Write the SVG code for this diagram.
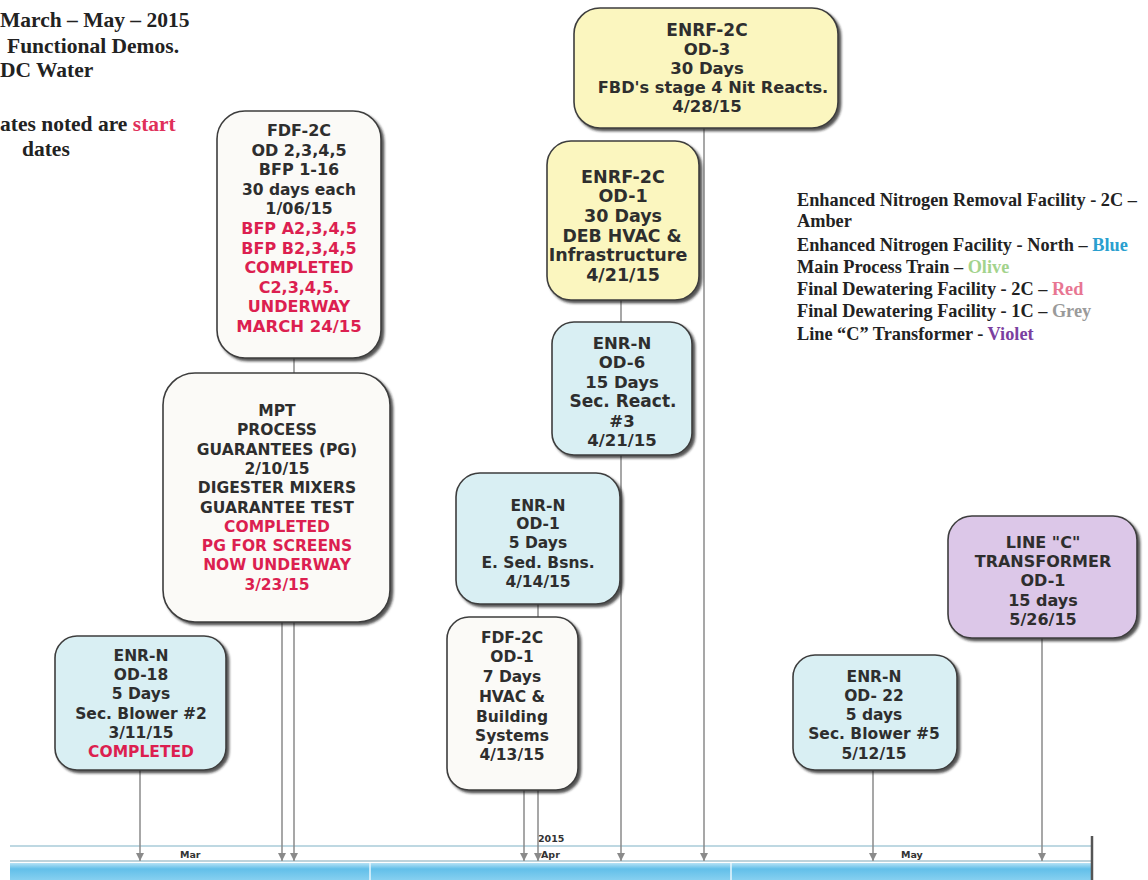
<svg xmlns="http://www.w3.org/2000/svg" width="1148" height="880" viewBox="0 0 1148 880">
<style>
.t{font-family:"DejaVu Sans",sans-serif;font-weight:bold;font-size:15.5px;fill:#2e2e2e;text-anchor:middle}
.r{fill:#dc1f50}
.box{stroke:#3e3e3e;stroke-width:1.6;filter:url(#sh)}
.w{fill:#fbfaf7}.b{fill:#d9eff3}.y{fill:#fbf6bf}.v{fill:#dcc7e8}
.con{stroke:#8a8a8a;stroke-width:1.5;fill:none;marker-end:url(#ah)}
.hd{font-family:"Liberation Serif",serif;font-weight:bold;font-size:21.5px;fill:#222}
.lg{font-family:"Liberation Serif",serif;font-weight:bold;font-size:18.3px;fill:#222}
.tl{font-family:"DejaVu Sans",sans-serif;font-weight:bold;font-size:9.5px;fill:#333}
</style>
<defs>
<filter id="sh" x="-10%" y="-10%" width="125%" height="125%">
<feDropShadow dx="2.5" dy="2.5" stdDeviation="1.2" flood-color="#1a1a1a" flood-opacity="0.75"/>
</filter>
<marker id="ah" viewBox="0 0 10 10" refX="10" refY="5" markerWidth="8" markerHeight="8" markerUnits="userSpaceOnUse" orient="auto">
<path d="M0,0 L10,5 L0,10 z" fill="#8a8a8a"/>
</marker>
<linearGradient id="band" x1="0" y1="0" x2="0" y2="1">
<stop offset="0" stop-color="#b6e2f5"/>
<stop offset="0.35" stop-color="#62bfe9"/>
<stop offset="1" stop-color="#86d0f0"/>
</linearGradient>
</defs>
<rect width="1148" height="880" fill="#ffffff"/>

<g id="title">
<text class="hd" x="0" y="27">March – May – 2015</text>
<text class="hd" x="7" y="53">Functional Demos.</text>
<text class="hd" x="0" y="77" font-size="20.5px">DC Water</text>
<text class="hd" x="0" y="131" font-size="21px">ates noted are <tspan fill="#e0305a">start</tspan></text>
<text class="hd" x="22" y="156" font-size="21px">dates</text>
</g>

<g id="legend">
<text class="lg" x="797" y="206">Enhanced Nitrogen Removal Facility - 2C –</text>
<text class="lg" x="797" y="227" fill="#f0b488">Amber</text>
<text class="lg" x="797" y="251">Enhanced Nitrogen Facility - North – <tspan fill="#2a9fcf">Blue</tspan></text>
<text class="lg" x="797" y="273">Main Process Train – <tspan fill="#a3d38c">Olive</tspan></text>
<text class="lg" x="797" y="295">Final Dewatering Facility - 2C – <tspan fill="#e87692">Red</tspan></text>
<text class="lg" x="797" y="317">Final Dewatering Facility - 1C – <tspan fill="#9a9a9a">Grey</tspan></text>
<text class="lg" x="797" y="340">Line “C” Transformer - <tspan fill="#7b3fa0">Violet</tspan></text>
</g>

<g id="timeline">
<line x1="10" y1="846" x2="1092" y2="846" stroke="#a9cbd9" stroke-width="1.5"/>
<line x1="10" y1="861" x2="1092" y2="861" stroke="#a9c4cf" stroke-width="1.5"/>
<rect x="10" y="863" width="1082" height="17" fill="url(#band)"/>
<line x1="370" y1="863" x2="370" y2="880" stroke="#e8f6fc" stroke-width="1.5"/>
<line x1="731" y1="863" x2="731" y2="880" stroke="#e8f6fc" stroke-width="1.5"/>
<line x1="1092" y1="836" x2="1092" y2="880" stroke="#555" stroke-width="2.5"/>
<text class="tl" x="538" y="842" font-size="13px">2015</text>
<text class="tl" x="180" y="858">Mar</text>
<text class="tl" x="541" y="858">Apr</text>
<text class="tl" x="901" y="858">May</text>
</g>

<g id="connectors">
<line class="con" x1="140" y1="770" x2="140" y2="861"/>
<line class="con" x1="294" y1="358" x2="294" y2="861"/>
<line class="con" x1="282" y1="622" x2="282" y2="861"/>
<line class="con" x1="538" y1="604" x2="538" y2="861"/>
<line class="con" x1="524" y1="790" x2="524" y2="861"/>
<line class="con" x1="621" y1="300" x2="621" y2="861"/>
<line class="con" x1="704" y1="128" x2="704" y2="861"/>
<line class="con" x1="873" y1="770" x2="873" y2="861"/>
<line class="con" x1="1042" y1="638" x2="1042" y2="861"/>
</g>

<g id="fdf2c-od2345">
<rect class="box w" x="217" y="111" width="164" height="247" rx="28"/>
<text class="t" x="299" y="136" style="font-size:16px">FDF-2C</text>
<text class="t" x="299" y="155.6" style="font-size:16px">OD 2,3,4,5</text>
<text class="t" x="299" y="175.2" style="font-size:16px">BFP 1-16</text>
<text class="t" x="299" y="194.8" style="font-size:15.5px">30 days each</text>
<text class="t" x="299" y="214.4" style="font-size:16px">1/06/15</text>
<text class="t r" x="299" y="234" style="font-size:16px">BFP A2,3,4,5</text>
<text class="t r" x="299" y="253.6" style="font-size:16px">BFP B2,3,4,5</text>
<text class="t r" x="299" y="273.2" style="font-size:16px">COMPLETED</text>
<text class="t r" x="299" y="292.8" style="font-size:16px">C2,3,4,5.</text>
<text class="t r" x="299" y="312.4" style="font-size:16px">UNDERWAY</text>
<text class="t r" x="299" y="332" style="font-size:16.5px">MARCH 24/15</text>
</g>

<g id="mpt-pg">
<rect class="box w" x="163" y="373" width="227" height="249" rx="32"/>
<text class="t" x="277" y="416">MPT</text>
<text class="t" x="277" y="435.3">PROCESS</text>
<text class="t" x="277" y="454.6">GUARANTEES (PG)</text>
<text class="t" x="277" y="473.9">2/10/15</text>
<text class="t" x="277" y="493.2">DIGESTER MIXERS</text>
<text class="t" x="277" y="512.5">GUARANTEE TEST</text>
<text class="t r" x="277" y="531.8">COMPLETED</text>
<text class="t r" x="277" y="551.1">PG FOR SCREENS</text>
<text class="t r" x="277" y="570.4">NOW UNDERWAY</text>
<text class="t r" x="277" y="589.7">3/23/15</text>
</g>

<g id="enrn-od18">
<rect class="box b" x="55" y="636" width="171" height="134" rx="22"/>
<text class="t" x="141" y="661">ENR-N</text>
<text class="t" x="141" y="680">OD-18</text>
<text class="t" x="141" y="699">5 Days</text>
<text class="t" x="141" y="719">Sec. Blower #2</text>
<text class="t" x="141" y="738">3/11/15</text>
<text class="t r" x="141" y="757">COMPLETED</text>
</g>

<g id="enrf2c-od3">
<rect class="box y" x="574" y="8" width="264" height="120" rx="26"/>
<text class="t" x="707" y="36" style="font-size:17px">ENRF-2C</text>
<text class="t" x="707" y="55" style="font-size:16.5px">OD-3</text>
<text class="t" x="707" y="74" style="font-size:16.5px">30 Days</text>
<text class="t" x="713" y="93" style="font-size:16.2px">FBD's stage 4 Nit Reacts.</text>
<text class="t" x="707" y="112" style="font-size:16.5px">4/28/15</text>
</g>

<g id="enrf2c-od1">
<rect class="box y" x="547" y="141" width="152" height="159" rx="24"/>
<text class="t" x="623" y="183" style="font-size:17.5px">ENRF-2C</text>
<text class="t" x="623" y="202" style="font-size:17.5px">OD-1</text>
<text class="t" x="623" y="222" style="font-size:17.5px">30 Days</text>
<text class="t" x="622" y="242" style="font-size:17.3px">DEB HVAC &amp;</text>
<text class="t" x="618" y="261" style="font-size:17.5px">Infrastructure</text>
<text class="t" x="623" y="281" style="font-size:17.5px">4/21/15</text>
</g>

<g id="enrn-od6">
<rect class="box b" x="552" y="322" width="140" height="133" rx="22"/>
<text class="t" x="622" y="349" style="font-size:16.5px">ENR-N</text>
<text class="t" x="622" y="368" style="font-size:16.5px">OD-6</text>
<text class="t" x="622" y="388" style="font-size:16.5px">15 Days</text>
<text class="t" x="623" y="407" style="font-size:17px">Sec. React.</text>
<text class="t" x="622" y="427" style="font-size:16.5px">#3</text>
<text class="t" x="622" y="446" style="font-size:16.5px">4/21/15</text>
</g>

<g id="enrn-od1">
<rect class="box b" x="456" y="473" width="164" height="131" rx="24"/>
<text class="t" x="538" y="511">ENR-N</text>
<text class="t" x="538" y="529">OD-1</text>
<text class="t" x="538" y="548">5 Days</text>
<text class="t" x="538" y="568">E. Sed. Bsns.</text>
<text class="t" x="538" y="587">4/14/15</text>
</g>

<g id="fdf2c-od1">
<rect class="box w" x="447" y="617" width="131" height="173" rx="22"/>
<text class="t" x="512" y="643">FDF-2C</text>
<text class="t" x="512" y="662">OD-1</text>
<text class="t" x="512" y="682">7 Days</text>
<text class="t" x="512" y="702">HVAC &amp;</text>
<text class="t" x="512" y="722">Building</text>
<text class="t" x="512" y="741">Systems</text>
<text class="t" x="512" y="760">4/13/15</text>
</g>

<g id="linec-od1">
<rect class="box v" x="948" y="516" width="189" height="122" rx="24"/>
<text class="t" x="1043" y="548" style="font-size:16px">LINE "C"</text>
<text class="t" x="1043" y="567" style="font-size:16px">TRANSFORMER</text>
<text class="t" x="1043" y="586" style="font-size:16px">OD-1</text>
<text class="t" x="1043" y="606" style="font-size:16px">15 days</text>
<text class="t" x="1043" y="625" style="font-size:16px">5/26/15</text>
</g>

<g id="enrn-od22">
<rect class="box b" x="793" y="655" width="164" height="115" rx="22"/>
<text class="t" x="874" y="682">ENR-N</text>
<text class="t" x="874" y="701">OD- 22</text>
<text class="t" x="874" y="720">5 days</text>
<text class="t" x="874" y="739">Sec. Blower #5</text>
<text class="t" x="874" y="759">5/12/15</text>
</g>
</svg>
